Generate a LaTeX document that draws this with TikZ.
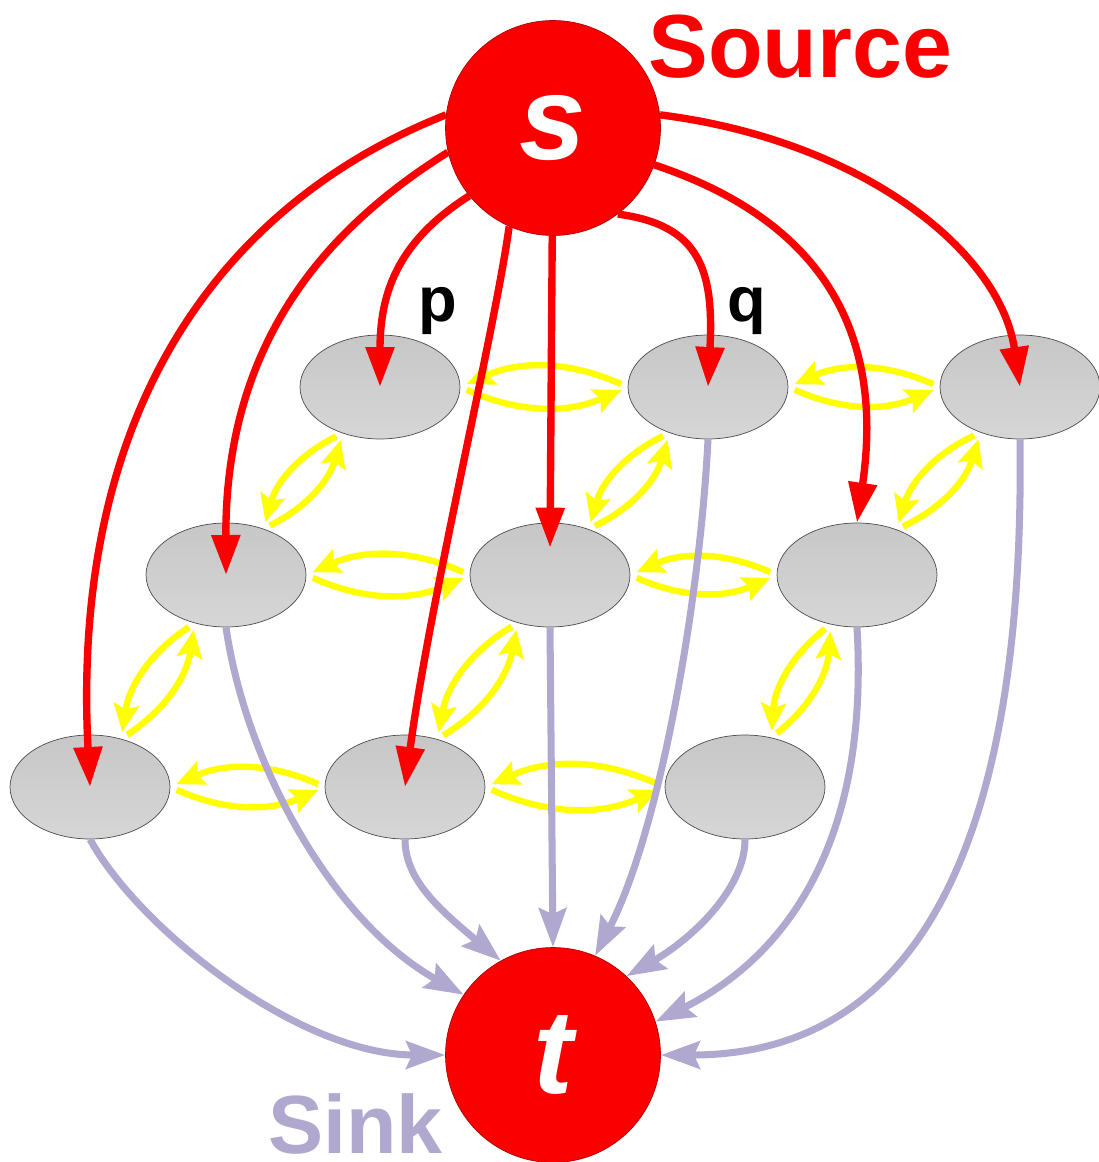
\documentclass[tikz,border=0pt]{standalone}
\usepackage{fontspec}
\setmainfont{Liberation Sans}
\usetikzlibrary{shapes.geometric, arrows.meta}
\definecolor{srcred}{RGB}{250,0,0}
\definecolor{sinklav}{RGB}{176,168,206}
\definecolor{flowyellow}{RGB}{255,255,0}

\begin{document}
\begin{tikzpicture}[x=0.02cm, y=-0.02cm,
circlenode/.style={circle, draw=red!70!black, fill=srcred, minimum size=4.3cm, inner sep=0pt, text=white, font=\fontsize{68}{74}\selectfont\bfseries\itshape},
ellipsenode/.style={ellipse, draw=black!70, top color=black!22, bottom color=black!16, minimum width=3.2cm, minimum height=2.08cm, inner sep=0pt},
bigtext/.style={anchor=base west, inner sep=0pt, font=\fontsize{51}{60}\selectfont\bfseries},
smalltext/.style={anchor=base west, inner sep=0pt, font=\fontsize{36}{42}\selectfont\bfseries},
redarrow/.style={srcred, line width=4.2pt, -{Triangle[length=0.8cm, width=0.55cm]}},
sinkarrow/.style={sinklav, line width=4pt, -{Stealth[length=0.78cm, width=0.55cm, inset=0.12cm]}},
swaparrow/.style={flowyellow, line width=3.6pt, -{Stealth[length=0.55cm, width=0.5cm, inset=0.1cm]}, shorten <=4pt, shorten >=4pt}]

\useasboundingbox (0,0) rectangle (1098,1162);

\node[circlenode](s) at (553,128) {s};
\node[circlenode](t) at (553,1055) {t};
\node[bigtext, text=srcred](sourcelabel) at (648,78) {Source};
\node[bigtext, text=sinklav, font=\fontsize{47}{56}\selectfont\bfseries](sinklabel) at (268,1153) {Sink};
\node[smalltext](plabel) at (418,321) {p};
\node[smalltext](qlabel) at (727,321) {q};

\node[ellipsenode](r1a) at (380,387) {};
\node[ellipsenode](r1b) at (708,387) {};
\node[ellipsenode](r1c) at (1020,387) {};
\node[ellipsenode](r2a) at (226,575) {};
\node[ellipsenode](r2b) at (550,575) {};
\node[ellipsenode](r2c) at (857,575) {};
\node[ellipsenode](r3a) at (90,787) {};
\node[ellipsenode](r3b) at (405,787) {};
\node[ellipsenode](r3c) at (745,787) {};

%%%%%%%%%%%%%%%%%%%%%%%%%%%%%%%%%%%%%%%%%%%%%%%%%%%%%%%%%%%%%%%%%%%%%%%

\draw[swaparrow](r1a.east) to[bend right=24] (r1b.west);
\draw[swaparrow](r1b.west) to[bend right=24] (r1a.east);
\draw[swaparrow](r1b.east) to[bend right=24] (r1c.west);
\draw[swaparrow](r1c.west) to[bend right=24] (r1b.east);
\draw[swaparrow](r2a.east) to[bend right=24] (r2b.west);
\draw[swaparrow](r2b.west) to[bend right=24] (r2a.east);
\draw[swaparrow](r2b.east) to[bend right=24] (r2c.west);
\draw[swaparrow](r2c.west) to[bend right=24] (r2b.east);
\draw[swaparrow](r3a.east) to[bend right=24] (r3b.west);
\draw[swaparrow](r3b.west) to[bend right=24] (r3a.east);
\draw[swaparrow](r3b.east) to[bend right=24] (r3c.west);
\draw[swaparrow](r3c.west) to[bend right=24] (r3b.east);

\draw[swaparrow](r1a.231) to[bend right=24] (r2a.51);
\draw[swaparrow](r2a.51) to[bend right=24] (r1a.231);
\draw[swaparrow](r1b.230) to[bend right=24] (r2b.50);
\draw[swaparrow](r2b.50) to[bend right=24] (r1b.230);
\draw[swaparrow](r1c.229) to[bend right=24] (r2c.49);
\draw[swaparrow](r2c.49) to[bend right=24] (r1c.229);
\draw[swaparrow](r2a.237) to[bend right=24] (r3a.57);
\draw[swaparrow](r3a.57) to[bend right=24] (r2a.237);
\draw[swaparrow](r2b.236) to[bend right=24] (r3b.56);
\draw[swaparrow](r3b.56) to[bend right=24] (r2b.236);
\draw[swaparrow](r2c.242) to[bend right=24] (r3c.62);
\draw[swaparrow](r3c.62) to[bend right=24] (r2c.242);

\draw[sinkarrow](r3a.south) .. controls (140,930) and (300,1055) .. (t.180);
\draw[sinkarrow](r2a.south) .. controls (245,760) and (330,920) .. (t.146);
\draw[sinkarrow](r3b.south) .. controls (405,880) and (440,910) .. (t.119);
\draw[sinkarrow](r2b.south) -- (t.90);
\draw[sinkarrow](r1b.south) .. controls (700,600) and (660,830) .. (t.67);
\draw[sinkarrow](r3c.south) .. controls (745,890) and (690,940) .. (t.47);
\draw[sinkarrow](r2c.south) .. controls (870,850) and (780,960) .. (t.18);
\draw[sinkarrow](r1c.south) .. controls (1025,820) and (930,1055) .. (t.0);

\draw[redarrow](s.173) .. controls (230,200) and (70,400) .. (r3a.center);
\draw[redarrow](s.193) .. controls (340,220) and (225,330) .. (r2a.center);
\draw[redarrow](s.219) .. controls (400,240) and (380,290) .. (r1a.center);
\draw[redarrow](s.246) .. controls (495,330) and (430,600) .. (r3b.center);
\draw[redarrow](s) -- ([yshift=-0.5cm]r2b.north);
\draw[redarrow](s.307) .. controls (700,225) and (714,270) .. (r1b.center);
\draw[redarrow](s.340) .. controls (820,220) and (885,330) .. (r2c.north);
\draw[redarrow](s.7) .. controls (860,140) and (1000,250) .. (r1c.center);

\end{tikzpicture}
\end{document}
